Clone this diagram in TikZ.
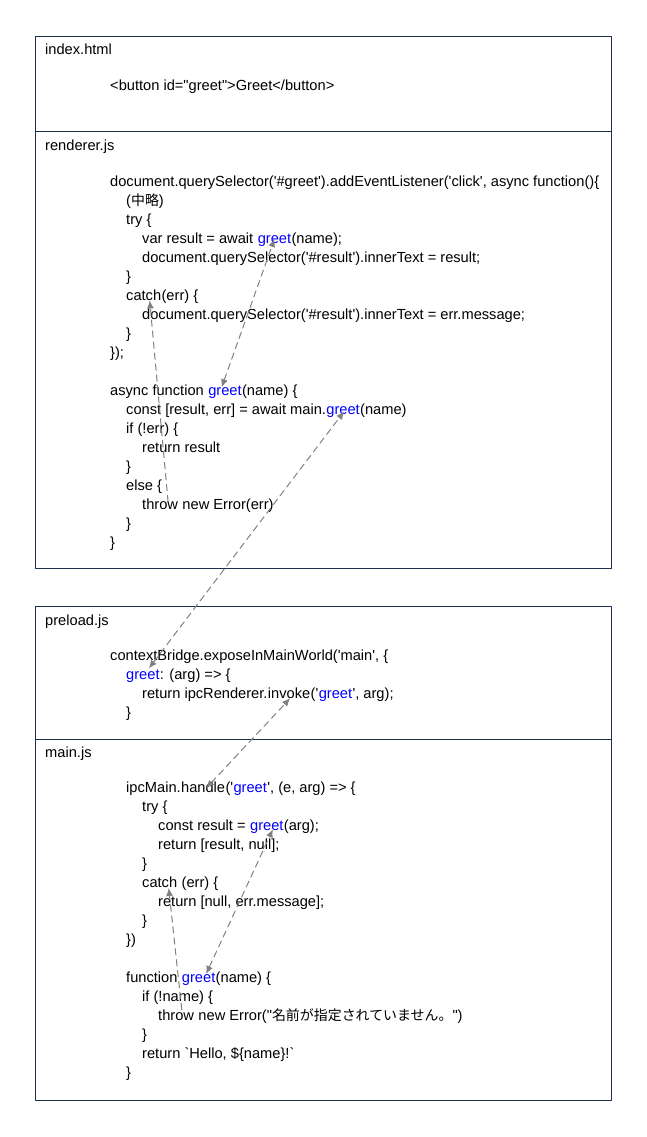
\documentclass[tikz,border=0pt]{standalone}
\usepackage{fontspec}
\newfontfamily\codefont{Liberation Sans}[Ligatures=TeXOff]
\newfontfamily\cjkfont{Noto Sans CJK JP}
\usetikzlibrary{arrows.meta}
\definecolor{boxline}{HTML}{1F2D4F}
\definecolor{linkgray}{HTML}{808080}
\definecolor{greetblue}{HTML}{0000FF}
\newcommand{\codegap}{\hbox{\ }}
\newcommand{\jp}[1]{{\cjkfont\fontsize{14}{17}\selectfont #1}}
\begin{document}
\begin{tikzpicture}[>={Latex[length=8bp,width=7bp]},line join=bevel,
  codeline/.style={anchor=base west,inner sep=0pt,font=\codefont\fontsize{14.7}{17}\selectfont},
  callname/.style={codeline,text=greetblue},
  filebox/.style={draw=boxline,line width=1bp},
  link/.style={draw=linkgray,line width=1bp,dash pattern=on 7bp off 4bp},
]
%%
\useasboundingbox (0bp,0bp) rectangle (647bp,1137bp);
\draw [filebox] (35.5bp,568.5bp) rectangle (611.5bp,1100.5bp);
\draw [filebox] (35.5bp,1005.5bp) -- (611.5bp,1005.5bp);
\draw [filebox] (35.5bp,36.5bp) rectangle (611.5bp,530.5bp);
\draw [filebox] (35.5bp,397.5bp) -- (611.5bp,397.5bp);
%% index.html
\node (node_index) at (45bp,1082bp) [codeline] {index.html};
  \node (node_i1) at (110bp,1046.5bp) [codeline] {<button id="greet">Greet</button>};
%% renderer.js
\node (node_renderer) at (45bp,986bp) [codeline] {renderer.js};
  \node (node_r1) at (110bp,950.5bp) [codeline] {document.querySelector('\#greet').addEventListener('click', async function()\{};
  \node (node_r2) at (126bp,931.5bp) [codeline] {(\jp{中略})};
  \node (node_r3) at (126bp,912.5bp) [codeline] {try \{};
  \node (node_r4a) at (142bp,893.5bp) [codeline] {var result = await\codegap};
  \node (node_r4b) at (node_r4a.base east) [callname] {greet};
  \node (node_r4c) at (node_r4b.base east) [codeline] {(name);};
  \node (node_r5) at (142bp,874.5bp) [codeline] {document.querySelector('\#result').innerText = result;};
  \node (node_r6) at (126bp,855.5bp) [codeline] {\}};
  \node (node_r7a) at (126bp,836.5bp) [codeline] {catch};
  \node (node_r7b) at (node_r7a.base east) [codeline] {(err) \{};
  \node (node_r8) at (142bp,817.5bp) [codeline] {document.querySelector('\#result').innerText = err.message;};
  \node (node_r9) at (126bp,798.5bp) [codeline] {\}};
  \node (node_r10) at (110bp,779.5bp) [codeline] {\});};
  \node (node_r11a) at (110bp,741.5bp) [codeline] {async function\codegap};
  \node (node_r11b) at (node_r11a.base east) [callname] {greet};
  \node (node_r11c) at (node_r11b.base east) [codeline] {(name) \{};
  \node (node_r12a) at (126bp,722.5bp) [codeline] {const [result, err] = await main.};
  \node (node_r12b) at (node_r12a.base east) [callname] {greet};
  \node (node_r12c) at (node_r12b.base east) [codeline] {(name)};
  \node (node_r13) at (126bp,703.5bp) [codeline] {if (!err) \{};
  \node (node_r14) at (142bp,684.5bp) [codeline] {return result};
  \node (node_r15) at (126bp,665.5bp) [codeline] {\}};
  \node (node_r16) at (126bp,646.5bp) [codeline] {else \{};
  \node (node_r17a) at (142bp,627.5bp) [codeline] {throw};
  \node (node_r17b) at (node_r17a.base east) [codeline] {\codegap new Error(err)};
  \node (node_r18) at (126bp,608.5bp) [codeline] {\}};
  \node (node_r19) at (110bp,589.5bp) [codeline] {\}};
%% preload.js
\node (node_preload) at (45bp,511bp) [codeline] {preload.js};
  \node (node_p1) at (110bp,476bp) [codeline] {contextBridge.exposeInMainWorld('main', \{};
  \node (node_p2a) at (126bp,457bp) [callname] {greet};
  \node (node_p2b) at (node_p2a.base east) [codeline] {: (arg) => \{};
  \node (node_p3a) at (142bp,438bp) [codeline] {return ipcRenderer.};
  \node (node_p3b) at (node_p3a.base east) [codeline] {invoke};
  \node (node_p3c) at (node_p3b.base east) [codeline] {('};
  \node (node_p3d) at (node_p3c.base east) [callname] {greet};
  \node (node_p3e) at (node_p3d.base east) [codeline] {', arg);};
  \node (node_p4) at (126bp,419bp) [codeline] {\}};
%% main.js
\node (node_main) at (45bp,379bp) [codeline] {main.js};
  \node (node_m1a) at (126bp,344bp) [codeline] {ipcMain.};
  \node (node_m1b) at (node_m1a.base east) [codeline] {handle};
  \node (node_m1c) at (node_m1b.base east) [codeline] {('};
  \node (node_m1d) at (node_m1c.base east) [callname] {greet};
  \node (node_m1e) at (node_m1d.base east) [codeline] {', (e, arg) => \{};
  \node (node_m2) at (142bp,325bp) [codeline] {try \{};
  \node (node_m3a) at (158bp,306bp) [codeline] {const result =\codegap};
  \node (node_m3b) at (node_m3a.base east) [callname] {greet};
  \node (node_m3c) at (node_m3b.base east) [codeline] {(arg);};
  \node (node_m4) at (158bp,287bp) [codeline] {return [result, null];};
  \node (node_m5) at (142bp,268bp) [codeline] {\}};
  \node (node_m6a) at (142bp,249bp) [codeline] {catch};
  \node (node_m6b) at (node_m6a.base east) [codeline] {\codegap(err) \{};
  \node (node_m7) at (158bp,230bp) [codeline] {return [null, err.message];};
  \node (node_m8) at (142bp,211bp) [codeline] {\}};
  \node (node_m9) at (126bp,192bp) [codeline] {\})};
  \node (node_m10a) at (126bp,154bp) [codeline] {function\codegap};
  \node (node_m10b) at (node_m10a.base east) [callname] {greet};
  \node (node_m10c) at (node_m10b.base east) [codeline] {(name) \{};
  \node (node_m11) at (142bp,135bp) [codeline] {if (!name) \{};
  \node (node_m12a) at (158bp,116bp) [codeline] {throw};
  \node (node_m12b) at (node_m12a.base east) [codeline] {\codegap new Error("\jp{名前が指定されていません。}")};
  \node (node_m13) at (142bp,97bp) [codeline] {\}};
  \node (node_m14) at (142bp,78bp) [codeline] {return `Hello, \$\{name\}!`};
  \node (node_m15) at (126bp,59bp) [codeline] {\}};
%% links
\draw [link,<->] ([xshift=-3.3bp,yshift=8.3bp]node_r11b.base) -- ([yshift=4.5bp]node_r4b.base);
\draw [link,->] ([xshift=8bp,yshift=7.5bp]node_r17a.base) -- ([xshift=6bp]node_r7a.base);
\draw [link,<->] ([xshift=6bp,yshift=11.7bp]node_p2a.base) -- ([xshift=1bp,yshift=3bp]node_r12b.base);
\draw [link,<->] ([xshift=3bp,yshift=4.7bp]node_m1b.base) -- ([xshift=1bp,yshift=0.7bp]node_p3b.base);
\draw [link,<->] ([xshift=7.5bp,yshift=9bp]node_m10b.base) -- ([xshift=6bp,yshift=1.7bp]node_m3b.base);
\draw [link,->] ([xshift=5.7bp,yshift=11bp]node_m12a.base) -- ([xshift=9bp]node_m6a.base);
%
\end{tikzpicture}
\end{document}
